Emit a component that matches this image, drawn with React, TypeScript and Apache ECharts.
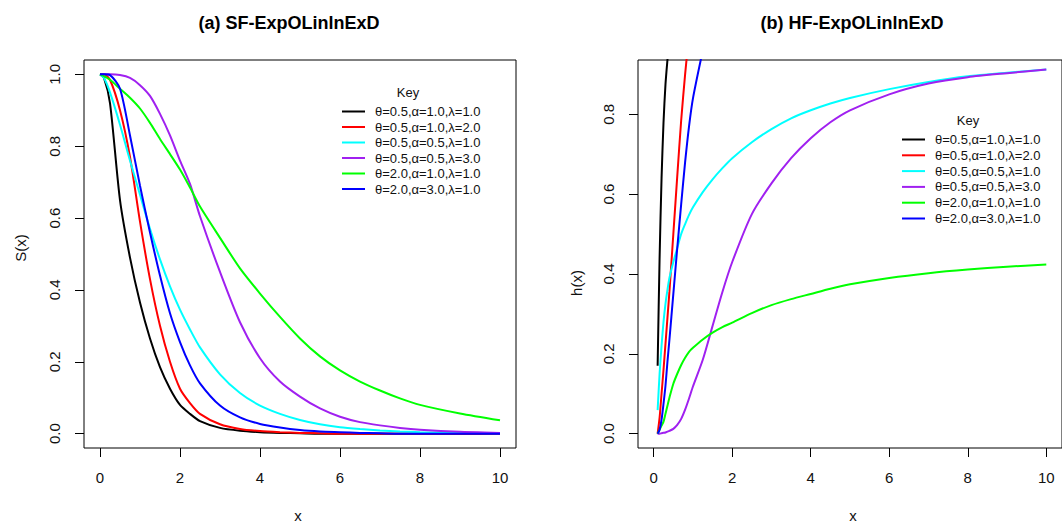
import React, { useEffect, useRef } from "react";
import * as echarts from "echarts";

// ---- Left panel: survival functions S(x)
const xS = [0, 0.1, 0.25, 0.5, 0.75, 1, 1.25, 1.5, 1.75, 2, 2.25, 2.5, 3, 3.5, 4, 4.5, 5, 5.5, 6, 6.5, 7, 7.5, 8, 9, 10];
const sBlack = [1, 0.99, 0.92, 0.65, 0.49, 0.365, 0.265, 0.185, 0.125, 0.08, 0.055, 0.035, 0.016, 0.008, 0.004, 0.002, 0.001, 0, 0, 0, 0, 0, 0, 0, 0];
const sRed = [1, 1, 0.985, 0.9, 0.77, 0.59, 0.43, 0.3, 0.2, 0.125, 0.085, 0.055, 0.026, 0.013, 0.007, 0.004, 0.002, 0.001, 0, 0, 0, 0, 0, 0, 0];
const sCyan = [1, 0.99, 0.95, 0.86, 0.76, 0.665, 0.57, 0.485, 0.41, 0.345, 0.29, 0.24, 0.165, 0.113, 0.078, 0.055, 0.038, 0.026, 0.018, 0.013, 0.009, 0.006, 0.004, 0.002, 0.001];
const sPurple = [1, 1, 1, 0.998, 0.99, 0.97, 0.94, 0.89, 0.83, 0.76, 0.695, 0.605, 0.45, 0.31, 0.21, 0.145, 0.103, 0.07, 0.047, 0.032, 0.023, 0.016, 0.011, 0.005, 0.002];
const sGreen = [1, 0.995, 0.985, 0.96, 0.935, 0.905, 0.865, 0.82, 0.778, 0.735, 0.685, 0.632, 0.545, 0.46, 0.39, 0.325, 0.265, 0.215, 0.176, 0.145, 0.12, 0.098, 0.08, 0.056, 0.037];
const sBlue = [1, 1, 0.998, 0.96, 0.83, 0.69, 0.56, 0.44, 0.335, 0.255, 0.19, 0.14, 0.078, 0.045, 0.027, 0.017, 0.01, 0.006, 0.004, 0.002, 0.001, 0, 0, 0, 0];

// ---- Right panel: hazard functions h(x)
const xH = [0.1, 0.15, 0.2, 0.25, 0.3, 0.35, 0.4, 0.5, 0.6, 0.7, 0.8, 0.9, 1.0, 1.25, 1.5, 1.75, 2, 2.5, 3, 3.5, 4, 4.5, 5, 6, 7, 8, 9, 10];
const hBlack = [0.17, 0.44, 0.64, 0.78, 0.875, 0.936, 0.99, null, null, null, null, null, null, null, null, null, null, null, null, null, null, null, null, null, null, null, null, null];
const hRed = [0, 0.04, 0.1, 0.16, 0.225, 0.29, 0.355, 0.5, 0.645, 0.785, 0.9, 1.0, null, null, null, null, null, null, null, null, null, null, null, null, null, null, null, null];
const hCyan = [0.059, 0.15, 0.22, 0.28, 0.325, 0.36, 0.39, 0.43, 0.465, 0.5, 0.525, 0.548, 0.567, 0.605, 0.637, 0.665, 0.69, 0.73, 0.763, 0.79, 0.81, 0.827, 0.841, 0.863, 0.881, 0.895, 0.904, 0.912];
const hPurple = [0, 0, 0.001, 0.002, 0.003, 0.005, 0.007, 0.012, 0.022, 0.037, 0.06, 0.088, 0.118, 0.185, 0.27, 0.355, 0.43, 0.55, 0.627, 0.69, 0.74, 0.78, 0.81, 0.85, 0.877, 0.893, 0.903, 0.912];
const hGreen = [0, 0.01, 0.02, 0.03, 0.05, 0.07, 0.09, 0.125, 0.15, 0.172, 0.19, 0.205, 0.215, 0.236, 0.253, 0.267, 0.278, 0.302, 0.322, 0.337, 0.35, 0.363, 0.374, 0.39, 0.402, 0.411, 0.418, 0.424];
const hBlue = [0, 0.01, 0.035, 0.075, 0.12, 0.18, 0.235, 0.35, 0.465, 0.575, 0.68, 0.77, 0.84, 0.96, null, null, null, null, null, null, null, null, null, null, null, null, null, null];

const xTicks = [0, 2, 4, 6, 8, 10];
const ySTicks = [0, 0.2, 0.4, 0.6, 0.8, 1.0];
const yHTicks = [0, 0.2, 0.4, 0.6, 0.8];

const keyLabels = [
  "θ=0.5,α=1.0,λ=1.0",
  "θ=0.5,α=1.0,λ=2.0",
  "θ=0.5,α=0.5,λ=1.0",
  "θ=0.5,α=0.5,λ=3.0",
  "θ=2.0,α=1.0,λ=1.0",
  "θ=2.0,α=3.0,λ=1.0",
];
const colors = ["#000000", "#FF0000", "#00FFFF", "#A020F0", "#00FF00", "#0000FF"];

const FONT = "'Liberation Sans', Arial, Helvetica, sans-serif";
const TXT = "#111";

function buildSeries(xs: number[], ys: (number | null)[], idx: number, gi: number, name: string) {
  const data: number[][] = [];
  xs.forEach((x, i) => {
    const v = ys[i];
    if (v !== null && v !== undefined) data.push([x, v]);
  });
  return {
    type: "line",
    name: name + (gi === 0 ? " S" : " h"),
    xAxisIndex: gi,
    yAxisIndex: gi,
    data,
    showSymbol: false,
    smooth: 0.25,
    clip: true,
    lineStyle: { color: colors[idx], width: 2 },
    itemStyle: { color: colors[idx] },
    z: 2 + idx,
  };
}

function legendGraphic(lineX: number, textX: number, y0: number, step: number, keyX: number, keyY: number) {
  const els: any[] = [
    {
      type: "text",
      x: keyX,
      y: keyY,
      style: { text: "Key", font: `13px ${FONT}`, fill: TXT, textAlign: "center", textVerticalAlign: "middle" },
    },
  ];
  keyLabels.forEach((lab, i) => {
    const y = y0 + i * step;
    els.push({
      type: "line",
      shape: { x1: lineX, y1: y, x2: lineX + 23, y2: y },
      style: { stroke: colors[i], lineWidth: 2 },
    });
    els.push({
      type: "text",
      x: textX,
      y,
      style: { text: lab, font: `13px ${FONT}`, fill: TXT, textAlign: "left", textVerticalAlign: "middle" },
    });
  });
  return els;
}

function makeXAxis(gi: number) {
  return {
    type: "value",
    gridIndex: gi,
    min: -0.4,
    max: 10.4,
    position: "bottom",
    axisLine: { show: false, onZero: false },
    splitLine: { show: false },
    axisTick: { show: true, inside: false, length: 9, customValues: xTicks, lineStyle: { color: "#000", width: 1 } },
    axisLabel: { customValues: xTicks, margin: 22, fontSize: 15, color: TXT, fontFamily: FONT },
  };
}

function makeYAxis(gi: number, min: number, max: number, ticks: number[]) {
  return {
    type: "value",
    gridIndex: gi,
    min,
    max,
    position: "left",
    axisLine: { show: false, onZero: false },
    splitLine: { show: false },
    axisTick: { show: true, inside: false, length: 9, customValues: ticks, lineStyle: { color: "#000", width: 1 } },
    axisLabel: {
      customValues: ticks,
      margin: 22,
      rotate: 90,
      fontSize: 15,
      color: TXT,
      fontFamily: FONT,
      formatter: (v: number) => v.toFixed(1),
    },
  };
}

export default function App() {
  const ref = useRef<HTMLDivElement>(null);
  useEffect(() => {
    document.body.style.margin = "0";
    if (!ref.current) return;
    const chart = echarts.init(ref.current, undefined, { renderer: "svg" });
    const sSets = [sBlack, sRed, sCyan, sPurple, sGreen, sBlue];
    const hSets = [hBlack, hRed, hCyan, hPurple, hGreen, hBlue];
    const series: any[] = [];
    sSets.forEach((ys, i) => series.push(buildSeries(xS, ys, i, 0, keyLabels[i])));
    hSets.forEach((ys, i) => series.push(buildSeries(xH, ys, i, 1, keyLabels[i])));

    const option: any = {
      animation: false,
      backgroundColor: "#ffffff",
      grid: [
        { left: 84, top: 60, width: 432, height: 388, show: true, borderColor: "#000", borderWidth: 1, backgroundColor: "transparent" },
        { left: 638, top: 60, width: 432, height: 388, show: true, borderColor: "#000", borderWidth: 1, backgroundColor: "transparent" },
      ],
      xAxis: [makeXAxis(0), makeXAxis(1)],
      yAxis: [makeYAxis(0, -0.04, 1.04, ySTicks), makeYAxis(1, -0.036, 0.936, yHTicks)],
      series,
      graphic: [
        {
          type: "text",
          x: 289,
          y: 23,
          style: { text: "(a) SF-ExpOLinlnExD", font: `bold 18px ${FONT}`, fill: "#000", textAlign: "center", textVerticalAlign: "middle" },
        },
        {
          type: "text",
          x: 852,
          y: 23,
          style: { text: "(b) HF-ExpOLinlnExD", font: `bold 18px ${FONT}`, fill: "#000", textAlign: "center", textVerticalAlign: "middle" },
        },
        {
          type: "text",
          x: 20,
          y: 248,
          rotation: Math.PI / 2,
          style: { text: "S(x)", font: `15px ${FONT}`, fill: TXT, textAlign: "center", textVerticalAlign: "middle" },
        },
        {
          type: "text",
          x: 576,
          y: 283,
          rotation: Math.PI / 2,
          style: { text: "h(x)", font: `15px ${FONT}`, fill: TXT, textAlign: "center", textVerticalAlign: "middle" },
        },
        {
          type: "text",
          x: 298,
          y: 515,
          style: { text: "x", font: `15px ${FONT}`, fill: TXT, textAlign: "center", textVerticalAlign: "middle" },
        },
        {
          type: "text",
          x: 853,
          y: 515,
          style: { text: "x", font: `15px ${FONT}`, fill: TXT, textAlign: "center", textVerticalAlign: "middle" },
        },
        ...legendGraphic(342, 375, 111.5, 15.5, 408, 92),
        ...legendGraphic(902, 935, 139.5, 15.8, 968, 120),
      ],
    };
    chart.setOption(option);
    return () => chart.dispose();
  }, []);
  return <div ref={ref} style={{ width: 1062, height: 525 }} />;
}
